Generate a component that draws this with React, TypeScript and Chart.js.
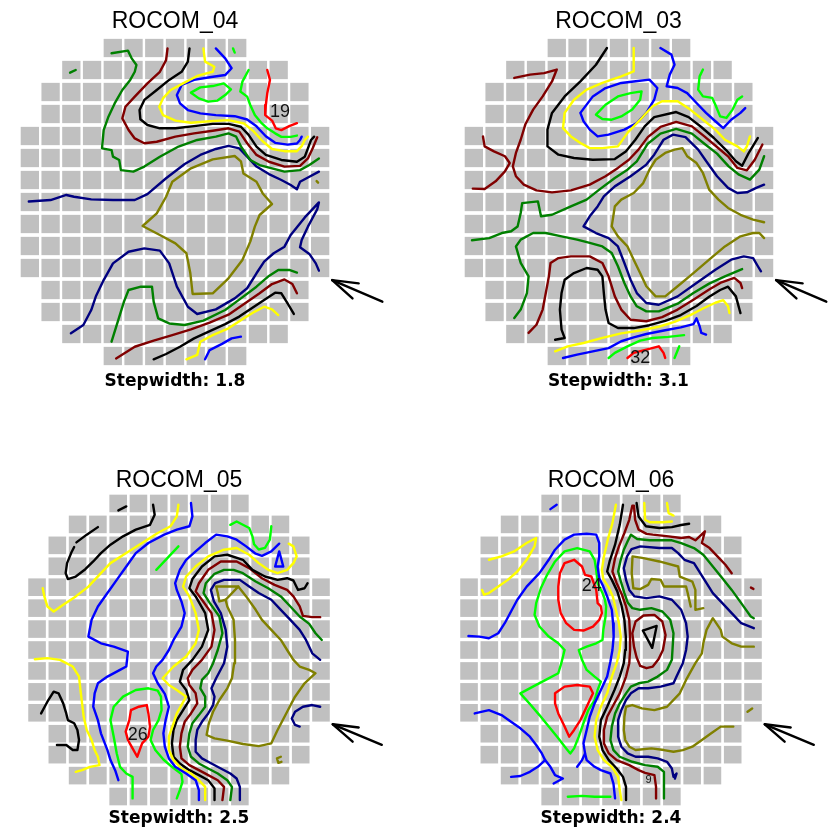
import React, { useEffect, useRef } from 'react';
import { Chart, registerables } from 'chart.js';

Chart.register(...registerables);

type Pt = [number, number];

// ---------- sensor grid: 15 x 15 positions, circular mask (first / last column per row)
const ROW_FIRST_COL = [4, 2, 1, 1, 0, 0, 0, 0, 0, 0, 0, 1, 1, 2, 4];
const ROW_LAST_COL = [10, 12, 13, 13, 14, 14, 14, 14, 14, 14, 14, 13, 13, 12, 10];

const PANEL_TITLES = ['ROCOM_04', 'ROCOM_03', 'ROCOM_05', 'ROCOM_06'];
const STEPWIDTHS = [1.8, 3.1, 2.5, 2.4];

// inlet-direction arrow (grid units)
const ARROW_SHAFT: Pt[] = [[15.08, 11.05], [17.5, 12.03]];
const ARROW_HEAD: Pt[] = [[16.36, 11.2], [15.08, 11.05], [16.06, 11.88]];

// ---------- ROCOM_04 contour lines (grid units: x = column, y = row)
const P04_DKGREEN_1: Pt[] = [[4.44,0.74],[5.23,0.62],[5.41,0.97],[5.64,1.27],[5.56,1.58],[5.34,1.95],[4.96,2.41],[4.59,3.02],[4.29,3.62],[4.06,4.23],[3.98,5.06],[4.44,5.14],[4.51,5.44],[4.81,5.59],[4.89,6.05],[5.49,6.12],[6.02,5.89],[6.77,5.44],[7.67,4.98],[8.57,4.68],[9.47,4.53],[10.08,4.38],[10.45,4.53],[10.68,4.98],[11.13,5.59],[11.58,5.82],[12.18,5.97],[12.78,6.12],[13.53,6.05],[13.98,5.82],[14.44,5.52]];
const P04_DKGREEN_2: Pt[] = [[2.44,1.62],[2.71,1.5]];
const P04_DKRED_1: Pt[] = [[7.14,0.52],[7.07,1.05],[6.77,1.58],[6.17,2.11],[5.56,2.71],[5.11,3.17],[4.96,3.7],[5.26,4.23],[5.56,4.61],[6.02,4.83],[6.62,4.76],[7.52,4.53],[8.42,4.38],[9.32,4.26],[10.08,4.15],[10.6,4.3],[10.98,4.83],[11.43,5.36],[12.03,5.67],[12.78,5.89],[13.53,5.86],[13.91,5.52],[14.14,5.06],[14.36,4.56]];
const P04_BLACK_1: Pt[] = [[8.2,0.52],[8.12,1.12],[7.82,1.58],[7.22,1.95],[6.62,2.41],[6.02,2.86],[5.79,3.32],[5.83,3.74],[6.17,4.0],[6.77,4.15],[7.52,4.15],[8.42,4.05],[9.32,3.95],[10.08,3.95],[10.68,4.08],[11.05,4.45],[11.43,4.98],[11.88,5.36],[12.63,5.59],[13.38,5.67],[13.76,5.44],[13.91,5.06],[14.06,4.68],[14.21,4.53]];
const P04_YELLOW_1: Pt[] = [[8.87,0.52],[8.95,1.12],[9.4,1.35],[9.32,1.58],[8.57,1.77],[7.89,2.11],[7.29,2.41],[6.92,2.79],[6.74,3.17],[6.92,3.55],[7.52,3.8],[8.27,3.9],[9.17,3.83],[10.08,3.78],[10.83,3.93],[11.28,4.28],[11.73,4.74],[12.18,5.09],[12.78,5.19],[13.38,5.19],[13.61,4.96],[13.76,4.68],[13.91,4.53]];
const P04_BLUE_1: Pt[] = [[9.47,0.52],[9.92,0.97],[10.23,1.42],[9.92,1.73],[9.17,1.83],[8.42,1.95],[7.82,2.18],[7.59,2.64],[7.74,3.02],[8.12,3.32],[8.72,3.47],[9.47,3.55],[10.38,3.6],[10.98,3.75],[11.43,4.06],[11.88,4.51],[12.33,4.81],[12.93,4.89],[13.38,4.84],[13.53,4.68],[13.61,4.53]];
const P04_GREEN_1: Pt[] = [[8.27,2.53],[8.72,2.29],[9.32,2.23],[9.85,2.11],[10.2,2.38],[9.92,2.64],[9.55,2.89],[9.1,2.94],[8.65,2.79],[8.27,2.53]];
const P04_GREEN_2: Pt[] = [[11.05,1.5],[10.75,2.03],[10.65,2.48],[10.98,2.71],[11.13,3.09],[11.35,3.55],[11.65,3.89],[11.95,4.15],[12.33,4.38],[12.63,4.54],[13.08,4.54],[13.38,4.48]];
const P04_GREEN_3: Pt[] = [[10.3,0.52],[10.38,0.71]];
const P04_RED_1: Pt[] = [[11.95,1.5],[12.08,1.95],[11.95,2.56],[11.88,3.09],[11.85,3.55],[12.18,3.8],[12.36,4.15],[12.63,4.23],[13.01,4.05],[13.38,3.92]];
const P04_NAVY_1: Pt[] = [[0.45,7.48],[1.5,7.41],[2.26,7.18],[2.63,7.26],[3.46,7.38],[4.51,7.41],[5.56,7.41],[6.17,7.14],[7.07,6.42],[7.97,5.77],[8.72,5.36],[9.47,5.09],[10.08,4.95],[10.6,5.06],[10.98,5.44],[11.43,5.89],[12.03,6.23],[12.63,6.5],[13.08,6.73],[13.38,6.92],[13.53,6.58],[13.98,6.35],[14.44,6.12]];
const P04_OLIVE_1: Pt[] = [[5.94,8.59],[6.62,8.02],[7.07,7.26],[7.37,6.58],[8.27,5.97],[9.32,5.56],[10.38,5.41],[10.68,5.65],[10.8,6.2],[11.43,6.58],[11.73,7.11],[12.18,7.59],[11.58,8.09],[11.35,8.62],[11.13,9.3],[10.75,10.14],[10.08,10.97],[9.32,11.65],[8.35,11.68],[8.24,10.74],[8.05,9.83],[7.52,9.38],[6.77,9.0],[5.94,8.59]];
const P04_OLIVE_2: Pt[] = [[14.33,6.55],[14.4,6.62]];
const P04_NAVY_2: Pt[] = [[2.48,13.47],[3.08,13.09],[3.46,12.41],[3.68,11.8],[4.06,11.05],[4.51,10.29],[5.26,9.76],[6.02,9.61],[6.77,9.71],[7.22,10.29],[7.59,11.35],[8.12,12.26],[8.57,12.59],[9.47,12.38],[10.38,11.88],[10.98,11.42],[11.43,10.74],[11.8,10.21],[12.26,9.83],[12.78,9.53],[13.08,9.0],[13.76,8.2],[14.44,7.52],[14.36,7.83],[13.91,8.62],[13.61,9.23],[13.53,9.56],[13.98,9.86],[14.29,10.29],[14.44,10.62]];
const P04_DKGREEN_3: Pt[] = [[4.44,13.85],[4.74,12.94],[5.04,12.03],[5.26,11.5],[5.86,11.35],[6.39,11.35],[6.47,12.03],[6.69,12.79],[7.22,13.02],[7.97,13.09],[8.87,12.89],[9.92,12.41],[10.68,11.88],[11.43,11.35],[12.03,10.86],[12.48,10.59],[13.01,10.59],[13.38,10.71]];
const P04_DKRED_2: Pt[] = [[4.66,14.61],[5.56,14.08],[6.47,13.8],[7.37,13.55],[8.27,13.29],[9.17,12.98],[10.08,12.62],[10.83,12.14],[11.58,11.65],[12.18,11.23],[12.78,11.02],[13.16,11.23],[13.38,11.65]];
const P04_BLACK_2: Pt[] = [[6.47,14.65],[7.07,14.41],[7.74,14.08],[8.42,13.7],[9.02,13.44],[9.92,13.05],[10.6,12.71],[11.2,12.33],[11.8,11.95],[12.33,11.62],[12.63,11.65],[12.93,12.11],[13.23,12.59]];
const P04_YELLOW_2: Pt[] = [[8.05,14.65],[8.57,14.45],[8.72,13.85],[9.32,13.55],[10.08,13.24],[10.75,12.83],[11.35,12.48],[11.8,12.26],[12.18,12.38],[12.48,12.64]];
const P04_BLUE_2: Pt[] = [[8.95,14.65],[9.17,14.23],[9.77,13.95],[10.23,13.7],[10.68,13.62]];
const P04_LABEL_TEXT = '19';
const P04_LABEL_POS: Pt = [12.56, 3.42];

// ---------- ROCOM_03
const P03_DKRED_1: Pt[] = [[0.94,4.52],[1.02,4.97],[1.47,5.2],[2.0,5.42],[2.23,5.73],[2.0,6.11],[1.55,6.56],[1.02,6.91],[0.45,6.89]];
const P03_DKRED_2: Pt[] = [[2.45,1.86],[3.21,1.71],[3.89,1.64],[4.5,1.48],[4.27,2.02],[3.82,2.7],[3.36,3.3],[2.98,3.98],[2.76,4.67],[2.53,5.27],[2.38,5.88],[2.53,6.33],[2.91,6.71],[3.52,6.97],[4.27,7.06],[5.18,6.97],[6.09,6.71],[6.85,6.33],[7.45,5.95],[7.98,5.58],[8.44,5.12],[8.89,4.55],[9.5,4.09],[10.26,3.86],[11.02,4.06],[11.62,4.52],[12.23,5.0],[12.79,5.45],[13.21,5.95],[13.67,6.06],[14.05,5.58],[14.42,4.89]];
const P03_BLACK_1: Pt[] = [[6.92,0.5],[6.39,1.26],[5.64,2.02],[4.88,2.7],[4.27,3.45],[4.05,4.21],[4.05,4.97],[4.58,5.35],[5.33,5.5],[6.24,5.58],[7.3,5.55],[7.83,5.2],[8.29,4.67],[8.74,4.06],[9.2,3.64],[10.26,3.41],[10.86,3.64],[11.47,4.09],[12.08,4.59],[12.68,5.15],[13.14,5.65],[13.44,5.85],[13.74,5.3],[14.2,4.59]];
const P03_YELLOW_1: Pt[] = [[8.21,0.5],[8.21,1.56],[7.61,1.79],[6.7,2.09],[5.94,2.39],[5.33,2.85],[4.88,3.45],[4.8,4.14],[5.18,4.52],[5.64,4.82],[6.09,5.05],[6.7,5.05],[7.45,4.97],[7.91,4.36],[8.52,3.76],[9.12,3.15],[9.58,2.92],[10.33,2.92],[10.94,3.3],[11.55,3.76],[12.15,4.21],[12.61,4.67],[13.21,4.97],[13.52,5.2],[13.67,4.97],[13.82,4.52]];
const P03_BLUE_1: Pt[] = [[5.64,3.45],[6.24,2.7],[6.85,2.32],[7.61,2.09],[8.21,2.02],[8.97,1.94],[9.35,2.32],[9.2,2.85],[8.82,3.45],[8.36,3.91],[7.76,4.21],[7.0,4.44],[6.47,4.52],[6.09,4.21],[5.79,3.83],[5.64,3.45]];
const P03_GREEN_1: Pt[] = [[6.39,3.53],[6.85,3.08],[7.45,2.7],[8.06,2.55],[8.59,2.47],[8.52,2.85],[8.14,3.3],[7.61,3.61],[7.15,3.76],[6.7,3.73],[6.39,3.53]];
const P03_BLUE_2: Pt[] = [[9.5,0.5],[10.03,0.8],[10.18,1.26],[9.95,1.71],[9.8,2.24],[10.33,2.32],[10.79,2.55],[11.24,3.0],[11.7,3.45],[12.15,3.83],[12.53,4.14],[12.91,3.76],[13.36,3.45],[13.59,3.23]];
const P03_GREEN_2: Pt[] = [[11.55,1.48],[11.39,1.79],[11.32,2.39],[11.55,2.7],[12.0,2.77],[12.15,3.08],[12.38,3.61],[12.68,3.68],[12.98,3.3],[13.21,2.85],[13.44,2.7]];
const P03_DKGREEN_1: Pt[] = [[0.41,9.24],[1.24,9.14],[1.85,8.91],[2.3,8.83],[2.61,8.61],[2.76,8.0],[2.83,7.55],[3.59,7.47],[3.74,8.15],[4.27,8.08],[5.18,7.7],[5.94,7.39],[6.55,6.94],[7.3,6.41],[7.91,6.03],[8.36,5.65],[8.89,4.85],[9.5,4.39],[10.26,4.18],[11.02,4.39],[11.62,4.85],[12.23,5.3],[12.79,5.88],[13.29,6.26],[13.82,6.48],[14.27,6.03],[14.5,5.42]];
const P03_NAVY_1: Pt[] = [[14.5,6.71],[14.12,6.86],[13.67,7.06],[13.21,7.09],[12.76,6.86],[12.23,6.33],[11.77,5.73],[11.32,5.12],[10.71,4.55],[10.11,4.44],[9.65,4.67],[9.2,5.35],[8.82,5.8],[8.06,6.33],[7.3,6.79],[6.77,7.24],[6.47,7.7],[6.09,8.15],[5.79,8.61],[6.39,8.91],[7.0,9.14],[7.45,9.52],[7.76,10.27],[8.06,11.03],[8.36,11.64],[8.82,12.09],[9.42,12.17],[10.33,11.79],[11.24,11.18],[12.15,10.58],[12.91,10.12],[13.52,9.97],[13.97,10.05],[14.2,10.42],[14.35,10.65]];
const P03_OLIVE_1: Pt[] = [[14.5,8.42],[13.97,8.3],[13.36,8.08],[12.76,7.77],[12.3,7.39],[11.85,6.94],[11.55,6.18],[11.24,5.73],[10.79,5.42],[10.56,5.05],[10.18,5.12],[9.73,5.27],[9.27,5.58],[8.97,6.03],[8.67,6.64],[8.21,7.09],[7.61,7.39],[7.3,7.7],[7.15,8.61],[7.45,9.06],[7.91,9.52],[8.21,10.12],[8.52,10.73],[8.82,11.33],[9.27,11.79],[9.73,11.79],[10.33,11.33],[11.09,10.73],[11.85,10.12],[12.61,9.52],[13.36,9.06],[13.97,8.91],[14.27,8.91],[14.5,9.14]];
const P03_DKGREEN_2: Pt[] = [[2.45,12.77],[2.76,12.39],[3.06,11.64],[3.14,10.88],[2.76,10.27],[2.53,9.52],[2.76,9.21],[3.36,8.91],[3.97,8.91],[4.73,9.06],[5.48,9.21],[6.09,9.36],[6.7,9.52],[7.15,9.82],[7.45,10.42],[7.76,11.18],[8.06,11.79],[8.36,12.24],[8.82,12.47],[9.42,12.47],[10.33,12.12],[11.09,11.64],[11.85,11.21],[12.61,10.88],[13.44,10.55]];
const P03_DKRED_3: Pt[] = [[3.14,13.45],[3.52,13.08],[3.82,12.39],[3.97,11.64],[4.12,10.88],[4.2,10.27],[4.58,10.05],[5.18,9.97],[6.09,9.97],[6.7,10.27],[7.0,10.88],[7.3,11.79],[7.61,12.39],[8.06,12.85],[8.82,12.92],[9.58,12.73],[10.33,12.39],[11.09,11.94],[11.85,11.48],[12.45,11.15],[13.06,10.95],[13.36,11.18],[13.44,11.41]];
const P03_BLACK_2: Pt[] = [[4.42,13.76],[4.88,13.68],[4.73,13.3],[4.65,12.39],[4.73,11.64],[4.88,11.03],[5.33,10.73],[5.94,10.5],[6.47,10.58],[6.7,10.88],[6.77,11.64],[6.85,12.39],[7.0,13.0],[7.45,13.23],[8.21,13.23],[8.97,13.1],[9.73,12.9],[10.48,12.64],[11.24,12.23],[11.85,11.81],[12.38,11.5],[12.76,11.35],[13.14,11.79],[13.36,12.55]];
const P03_YELLOW_2: Pt[] = [[4.42,14.29],[5.03,14.06],[5.79,13.91],[6.7,13.68],[7.61,13.47],[8.52,13.34],[9.42,13.17],[10.18,12.95],[10.94,12.64],[11.55,12.34],[12.15,12.08],[12.53,11.96],[12.76,12.24],[12.83,12.55]];
const P03_BLUE_3: Pt[] = [[4.8,14.59],[5.48,14.44],[6.24,14.29],[7.0,14.14],[7.61,13.83],[8.21,13.65],[8.82,13.5],[9.73,13.33],[10.48,13.2],[11.09,13.05],[11.24,12.79],[11.39,13.15],[11.47,13.45],[11.7,13.53]];
const P03_GREEN_3: Pt[] = [[7.0,14.59],[7.3,14.36],[7.91,14.06],[8.52,13.8],[9.12,13.68],[9.88,13.63],[10.64,13.55]];
const P03_GREEN_4: Pt[] = [[10.18,14.59],[10.41,14.06]];
const P03_RED_1: Pt[] = [[7.91,14.59],[8.21,14.36],[8.82,14.21],[9.42,14.06],[9.65,14.36],[9.73,14.59]];
const P03_LABEL_TEXT = '32';
const P03_LABEL_POS: Pt = [8.53, 14.57];

// ---------- ROCOM_05
const P05_BLACK_1: Pt[] = [[4.51,0.83],[4.9,0.64]];
const P05_BLACK_2: Pt[] = [[2.44,2.36],[2.95,1.99],[3.5,1.63]];
const P05_BLACK_3: Pt[] = [[6.22,0.56],[6.3,1.04],[6.07,1.52],[5.37,1.75],[4.74,2.07],[4.12,2.47],[3.65,2.87],[3.27,3.27],[2.88,3.64],[2.41,3.99],[2.02,4.11],[1.91,3.83],[1.98,3.35],[2.18,2.87],[2.33,2.58]];
const P05_YELLOW_1: Pt[] = [[7.47,0.56],[7.39,1.12],[7.08,1.59],[6.45,1.91],[5.68,2.39],[4.9,2.87],[4.12,3.35],[3.65,3.83],[3.03,4.47],[2.41,4.94],[1.79,5.34],[1.32,5.66],[1.01,5.42],[0.86,4.94],[0.78,4.55]];
const P05_BLUE_1: Pt[] = [[8.09,0.48],[8.16,1.12],[8.01,1.59],[7.39,1.75],[6.77,1.99],[5.99,2.39],[5.37,2.87],[4.9,3.51],[4.43,4.15],[3.97,4.78],[3.5,5.42],[3.19,6.06],[3.03,6.86],[3.65,7.18],[4.28,7.34],[4.98,7.58],[4.9,8.29],[4.59,8.45],[3.97,8.77],[3.5,9.09],[3.34,9.57],[3.27,10.21],[3.5,10.85],[3.65,11.48],[3.97,12.28],[4.12,12.76],[4.35,13.24],[4.51,13.72]];
const P05_GREEN_1: Pt[] = [[6.38,3.67],[7.47,2.55]];
const P05_BLUE_2: Pt[] = [[8.48,14.67],[8.48,14.19],[8.32,13.72],[7.85,13.4],[7.31,13.08],[7.0,12.68],[6.8,12.12],[6.73,11.48],[6.84,10.85],[7.0,10.21],[6.8,9.6],[6.45,9.09],[6.22,8.61],[6.38,8.29],[6.69,7.97],[7.0,7.5],[7.23,7.02],[7.62,6.38],[7.78,5.74],[7.62,5.18],[7.39,4.63],[7.31,4.31],[7.54,3.67],[7.85,3.19],[8.32,2.79],[8.79,2.39],[9.33,1.99],[9.88,2.07],[10.34,2.23],[10.81,2.55],[11.28,2.9],[11.59,3.0],[12.05,2.79],[12.44,2.42]];
const P05_BLUE_3: Pt[] = [[12.44,2.79],[12.64,3.51],[12.24,3.51],[12.44,2.79]];
const P05_GREEN_2: Pt[] = [[10.03,1.52],[10.34,1.36],[10.96,1.67],[11.12,2.07],[11.2,2.45],[11.43,2.7],[11.74,2.62],[11.98,2.23],[12.05,1.59]];
const P05_YELLOW_2: Pt[] = [[8.79,14.67],[8.79,14.04],[8.48,13.72],[8.09,13.4],[7.62,13.16],[7.23,12.76],[7.0,12.28],[7.0,11.64],[7.23,11.0],[7.39,10.53],[7.62,10.13],[7.85,9.73],[7.39,9.41],[7.0,9.17],[6.69,8.85],[7.23,8.29],[7.85,7.81],[8.32,7.18],[8.48,6.54],[8.32,5.74],[8.01,4.94],[7.7,4.47],[7.85,3.99],[8.32,3.51],[8.94,3.03],[9.72,2.71],[10.34,2.63],[10.96,2.95],[11.43,3.35],[11.9,3.67],[12.36,3.83],[12.83,3.67],[13.14,3.35],[13.3,3.03],[13.14,2.55],[12.91,2.42]];
const P05_BLACK_4: Pt[] = [[9.25,14.67],[9.25,14.11],[8.94,13.72],[8.48,13.48],[8.01,13.24],[7.54,12.92],[7.23,12.6],[7.15,11.96],[7.23,11.32],[7.39,10.85],[7.7,10.37],[8.01,9.89],[7.85,9.41],[7.54,9.01],[7.7,8.45],[8.16,7.97],[8.63,7.34],[8.94,6.54],[8.79,5.74],[8.32,4.94],[8.01,4.55],[8.16,4.11],[8.63,3.51],[9.25,3.03],[9.88,2.95],[10.65,3.19],[11.12,3.67],[11.74,3.99],[12.36,4.15],[12.83,4.07],[13.14,4.18],[13.37,4.63],[13.69,4.55],[13.84,4.31]];
const P05_DKRED_1: Pt[] = [[9.64,14.67],[9.72,14.04],[9.41,13.72],[8.94,13.48],[8.48,13.24],[8.01,13.0],[7.62,12.68],[7.54,12.12],[7.62,11.48],[7.78,10.93],[8.09,10.53],[8.4,10.05],[8.32,9.57],[8.01,9.17],[7.93,8.85],[8.16,8.45],[8.63,7.97],[9.1,7.34],[9.25,6.54],[9.1,5.74],[8.63,5.1],[8.32,4.7],[8.48,4.31],[8.94,3.67],[9.56,3.27],[10.34,3.27],[10.96,3.59],[11.59,4.07],[12.21,4.39],[12.83,4.63],[13.14,4.94],[13.45,5.42],[13.61,5.87],[14.07,5.93],[14.46,5.93]];
const P05_DKGREEN_1: Pt[] = [[10.03,14.67],[10.11,14.04],[9.88,13.72],[9.41,13.4],[8.94,13.16],[8.48,12.92],[8.09,12.6],[7.93,12.12],[8.01,11.48],[8.16,11.0],[8.48,10.61],[8.79,10.21],[8.79,9.73],[8.55,9.33],[8.63,8.93],[8.94,8.61],[9.18,8.13],[9.41,7.5],[9.64,6.7],[9.49,5.9],[9.02,5.26],[8.71,4.78],[8.82,4.31],[9.25,3.86],[9.72,3.67],[10.19,3.67],[10.65,3.83],[11.28,4.23],[11.9,4.55],[12.52,4.94],[12.99,5.42],[13.45,5.9],[13.92,6.25],[14.23,6.7],[14.54,7.02]];
const P05_NAVY_1: Pt[] = [[10.5,14.67],[10.5,14.04],[10.34,13.64],[10.03,13.4],[9.56,13.16],[9.1,12.92],[8.63,12.68],[8.32,12.36],[8.32,11.8],[8.4,11.32],[8.63,10.93],[8.94,10.53],[9.18,10.13],[9.25,9.73],[9.1,9.33],[9.33,8.85],[9.72,8.13],[9.88,7.34],[9.8,6.54],[9.56,5.74],[9.22,5.18],[9.07,4.63],[9.28,4.31],[9.72,4.15],[10.5,4.15],[10.96,4.47],[11.43,4.78],[12.05,5.1],[12.52,5.58],[12.99,6.06],[13.45,6.54],[13.76,7.02],[14.07,7.66],[14.46,7.97]];
const P05_OLIVE_1: Pt[] = [[9.33,4.47],[10.42,4.47],[9.8,5.1],[9.49,5.18],[9.41,4.78],[9.33,4.47]];
const P05_OLIVE_2: Pt[] = [[10.42,4.47],[10.81,4.94],[11.28,5.58],[11.59,6.06],[12.05,6.54],[12.52,7.02],[12.83,7.5],[13.14,7.97],[13.45,8.29],[13.92,8.45],[14.23,8.61],[13.69,9.09],[13.22,9.73],[12.83,10.45],[12.36,11.32],[12.05,11.96],[11.43,12.09],[10.65,11.99],[9.88,11.83],[9.25,11.72],[8.86,11.56],[8.97,11.0],[9.18,10.45],[9.49,9.89],[9.88,9.33],[10.11,8.85],[10.22,8.13],[10.26,7.02],[10.19,6.06],[9.88,5.42],[9.8,5.1]];
const P05_OLIVE_3: Pt[] = [[12.52,12.6],[12.33,12.68],[12.4,12.89],[12.55,12.84]];
const P05_NAVY_2: Pt[] = [[14.46,10.21],[14.07,10.13],[13.61,10.21],[13.22,10.45],[13.06,10.77],[13.22,11.08],[13.45,11.16]];
const P05_YELLOW_3: Pt[] = [[0.39,7.94],[1.01,7.89],[1.63,7.97],[2.26,8.29],[2.57,8.77],[2.64,9.41],[2.72,10.05],[2.8,10.69],[2.95,11.32],[3.19,11.8],[3.34,12.28],[3.5,12.6],[3.58,13.0],[3.11,13.08],[2.72,13.24],[2.41,13.32]];
const P05_BLACK_5: Pt[] = [[0.7,10.53],[1.01,9.97],[1.32,9.49],[1.56,9.57],[1.79,10.05],[1.94,10.53],[2.02,10.85],[2.33,11.0],[2.49,11.32],[2.57,11.8],[2.49,12.28],[2.26,12.28],[1.94,12.04],[1.48,12.04]];
const P05_GREEN_3: Pt[] = [[5.21,14.59],[5.21,14.04],[5.21,13.56],[4.9,13.4],[4.59,13.08],[4.43,12.44],[4.28,11.64],[4.12,10.85],[4.28,10.21],[4.74,9.73],[5.37,9.41],[5.99,9.33],[6.45,9.44],[6.61,9.73],[6.64,10.37],[6.49,10.85],[6.22,11.32],[6.1,11.8],[6.33,12.28],[6.73,12.73],[7.15,13.08],[7.62,13.43],[7.67,13.8],[7.54,14.19],[7.39,14.59]];
const P05_RED_1: Pt[] = [[5.13,10.37],[5.52,10.21],[5.91,10.13],[5.99,10.53],[6.07,11.16],[5.99,11.64],[5.68,11.96],[5.44,12.6],[5.21,12.2],[4.98,11.8],[4.87,11.4],[5.05,10.85],[5.13,10.37]];
const P05_LABEL_TEXT = '26';
const P05_LABEL_POS: Pt = [5.47, 11.56];

// ---------- ROCOM_06
const P06_BLUE_1: Pt[] = [[4.51,0.77],[4.82,0.56]];
const P06_YELLOW_1: Pt[] = [[1.48,3.19],[2.1,3.03],[2.72,2.79],[3.34,2.39],[3.81,2.15],[3.73,2.55],[3.34,3.19],[2.88,3.75],[2.41,4.15],[1.94,4.47],[1.48,4.78],[1.24,4.86],[1.14,4.63]];
const P06_BLUE_2: Pt[] = [[0.47,6.83],[1.01,6.86],[1.48,6.94],[1.94,6.7],[2.26,6.22],[2.57,5.66],[2.88,5.1],[3.34,4.47],[3.97,3.83],[4.43,3.19],[4.74,2.71],[5.21,2.23],[5.68,1.99],[6.3,1.95],[6.77,1.99],[6.92,2.39],[6.92,3.03],[6.84,3.51],[6.92,4.07],[7.12,4.47],[7.31,4.94],[7.54,5.58],[7.6,6.22],[7.63,6.86],[7.57,7.5],[7.47,8.05],[7.31,8.77],[7.0,9.41],[6.69,10.05],[6.45,10.69],[6.3,11.32],[6.14,11.96],[6.22,12.44],[6.3,12.76],[6.69,13.08],[7.0,13.24],[7.47,13.4],[7.62,13.88],[7.7,14.59]];
const P06_BLUE_3: Pt[] = [[6.22,12.44],[6.07,12.76],[5.83,13.08]];
const P06_BLUE_4: Pt[] = [[0.78,10.53],[1.48,10.37],[2.1,10.61],[2.57,10.93],[3.03,11.24],[3.5,11.64],[3.81,12.04],[4.09,12.44],[4.25,12.76],[4.51,13.08],[4.74,13.48],[5.13,13.64],[4.67,13.88]];
const P06_BLUE_5: Pt[] = [[2.57,13.56],[3.03,13.52],[3.5,13.32],[3.89,13.08],[4.25,12.76]];
const P06_GREEN_1: Pt[] = [[5.21,7.5],[4.9,7.18],[4.43,6.86],[3.97,6.38],[3.73,5.82],[3.81,5.26],[4.04,4.55],[4.35,3.91],[4.74,3.27],[5.21,2.79],[5.83,2.63],[6.45,2.79],[6.69,3.19],[6.77,3.67],[6.84,4.31],[7.08,4.78],[7.2,5.1],[7.26,5.42],[7.23,5.9],[7.12,6.54],[7.08,7.02],[6.77,7.18],[6.3,7.34],[5.91,7.5],[6.07,7.97],[6.3,8.45],[6.69,8.77],[7.0,9.01],[6.84,9.41],[6.69,9.89],[6.38,10.37],[6.14,11.0],[5.91,11.64],[5.68,12.2],[5.49,12.44],[5.29,12.2],[4.9,11.72],[4.43,11.16],[3.97,10.61],[3.5,10.08],[3.03,9.57],[3.65,9.25],[4.28,8.93],[4.9,8.61],[5.05,8.13],[5.21,7.5]];
const P06_RED_1: Pt[] = [[5.21,3.35],[5.68,3.19],[6.07,3.51],[6.22,3.91],[6.53,3.99],[6.77,4.63],[6.84,5.26],[7.0,5.42],[7.05,5.74],[6.92,6.06],[6.61,6.38],[6.14,6.57],[5.68,6.54],[5.29,6.22],[5.02,5.74],[4.9,5.1],[4.9,4.47],[4.98,3.83],[5.21,3.35]];
const P06_RED_2: Pt[] = [[4.74,9.57],[5.21,9.25],[5.83,9.17],[6.45,9.25],[6.61,9.57],[6.3,10.21],[5.99,10.85],[5.68,11.32],[5.44,11.64],[5.21,11.16],[4.9,10.53],[4.74,10.05],[4.74,9.57]];
const P06_YELLOW_2: Pt[] = [[8.01,14.67],[7.93,14.19],[7.85,13.56],[7.54,13.08],[7.15,12.76],[6.84,12.28],[6.69,11.64],[6.77,10.85],[7.0,10.21],[7.31,9.57],[7.54,8.77],[7.78,8.13],[7.93,7.5],[7.98,6.86],[7.89,6.22],[7.74,5.58],[7.59,4.94],[7.36,4.47],[7.12,4.11],[7.05,3.67],[7.15,3.03],[7.34,2.23],[7.57,1.44],[7.74,0.56]];
const P06_YELLOW_3: Pt[] = [[9.14,0.48],[9.18,1.28],[9.41,1.4],[10.03,1.4],[10.5,1.36]];
const P06_YELLOW_4: Pt[] = [[10.26,0.48],[10.34,0.96],[10.58,1.08]];
const P06_BLACK_1: Pt[] = [[8.24,14.67],[8.24,14.04],[8.09,13.56],[7.78,13.16],[7.39,12.76],[7.08,12.28],[6.92,11.64],[7.0,10.85],[7.31,10.21],[7.67,9.41],[7.93,8.77],[8.13,8.13],[8.2,7.5],[8.23,6.86],[8.16,6.06],[8.01,5.34],[7.81,4.7],[7.54,4.15],[7.31,3.75],[7.43,3.27],[7.7,2.47],[7.93,1.52],[8.09,0.56]];
const P06_BLACK_2: Pt[] = [[8.76,0.48],[8.86,1.12],[9.22,1.59],[9.88,1.67],[10.5,1.63],[10.96,1.53],[11.35,1.47]];
const P06_BLACK_3: Pt[] = [[9.07,6.57],[9.75,6.35],[9.53,7.4],[9.07,6.57]];
const P06_DKRED_1: Pt[] = [[9.72,14.59],[9.72,14.04],[9.64,13.48],[9.18,13.37],[8.86,13.24],[8.4,13.0],[7.78,12.76],[7.39,12.44],[7.15,11.96],[7.15,11.32],[7.31,10.69],[7.62,10.13],[7.93,9.57],[8.24,8.77],[8.4,8.13],[8.44,7.5],[8.44,6.86],[8.4,6.06],[8.24,5.42],[8.04,4.86],[7.78,4.31],[7.57,3.75],[7.7,3.11],[7.89,2.55],[8.16,1.91],[8.4,1.28],[8.55,0.61],[8.63,0.61],[8.69,1.28],[8.86,1.75],[9.25,1.95],[9.56,1.99],[10.34,2.07],[10.96,2.15],[11.35,2.1],[11.66,2.26],[12.13,1.83],[11.98,2.39],[12.36,2.63],[12.83,3.11],[13.14,3.43],[13.45,3.83]];
const P06_DKRED_2: Pt[] = [[8.63,7.34],[8.55,6.7],[8.71,6.14],[9.1,5.85],[9.64,5.82],[10.03,6.14],[10.19,6.78],[10.06,7.5],[9.84,7.94],[9.56,8.29],[9.25,8.37],[8.94,8.26],[8.76,7.85],[8.63,7.34]];
const P06_DKRED_3: Pt[] = [[14.4,4.52],[14.52,4.58]];
const P06_DKGREEN_1: Pt[] = [[10.11,14.59],[10.11,13.88],[10.11,13.32],[9.8,13.08],[9.18,13.0],[8.55,12.84],[7.93,12.6],[7.62,12.28],[7.47,11.8],[7.54,11.16],[7.7,10.53],[7.93,10.05],[8.24,9.57],[8.48,9.25],[8.86,9.09],[9.33,9.01],[9.8,8.77],[10.26,8.45],[10.5,7.97],[10.53,7.5],[10.58,6.7],[10.42,6.06],[10.03,5.66],[9.49,5.5],[8.94,5.58],[8.55,5.5],[8.32,5.23],[8.16,4.78],[8.01,4.31],[7.85,3.75],[7.98,3.19],[8.13,2.71],[8.32,2.31],[8.48,1.99],[8.79,2.2],[9.41,2.26],[10.5,2.26],[10.96,2.39],[11.59,2.63],[12.05,2.95],[12.52,3.51],[12.99,4.07],[13.45,4.63],[13.92,5.26],[14.39,5.9],[14.54,5.98]];
const P06_NAVY_1: Pt[] = [[14.54,6.46],[13.92,6.22],[13.45,5.74],[12.99,5.26],[12.52,4.78],[12.21,4.31],[11.9,3.83],[11.59,3.35],[11.12,3.19],[10.81,2.87],[10.5,2.63],[9.88,2.63],[8.94,2.55],[8.51,2.68],[8.29,3.03],[8.13,3.59],[8.24,4.15],[8.4,4.63],[8.66,4.94],[9.25,5.02],[9.88,4.94],[10.5,5.1],[10.96,5.58],[11.2,6.22],[11.28,6.86],[11.2,7.5],[11.04,8.13],[10.73,8.77],[10.58,9.09],[9.95,9.25],[9.33,9.33],[8.86,9.33],[8.48,9.57],[8.24,9.89],[8.01,10.37],[7.85,10.85],[7.85,11.64],[8.01,12.12],[8.32,12.44],[8.71,12.6],[9.33,12.6],[9.8,12.68],[10.26,12.84],[10.5,13.16],[10.58,13.56],[10.73,13.4],[10.65,13.64]];
const P06_OLIVE_1: Pt[] = [[11.43,5.42],[11.28,4.78],[11.2,4.47],[10.11,4.47],[9.95,4.15],[9.49,4.11],[9.33,4.39],[8.94,4.59],[8.6,4.55],[8.52,3.83],[8.56,3.03],[9.1,3.11],[9.88,3.27],[10.81,3.51],[10.89,3.99],[11.51,4.23],[11.66,4.63],[11.66,5.58],[12.05,5.5]];
const P06_OLIVE_2: Pt[] = [[14.54,7.34],[13.92,7.34],[13.45,7.18],[12.99,6.86],[12.91,6.54],[12.52,5.98],[12.21,6.54],[12.05,7.18],[11.98,7.66],[11.66,8.13],[11.2,8.93],[10.89,9.57],[10.26,10.21],[9.64,10.37],[9.02,10.29],[8.55,10.13],[8.24,10.21],[8.16,10.69],[8.13,11.32],[8.2,11.8],[8.4,12.12],[8.71,12.28],[9.49,12.2],[10.11,12.28],[10.58,12.36],[11.04,12.28],[11.51,12.12],[11.98,11.8],[12.44,11.48],[12.91,11.16],[13.53,11.16]];
const P06_OLIVE_3: Pt[] = [[14.23,10.45],[14.46,10.29]];
const P06_GREEN_2: Pt[] = [[5.37,14.51],[6.07,14.47],[6.69,14.51],[7.47,14.51]];
const P06_LABEL_TEXT = '24';
const P06_LABEL_POS: Pt = [6.55, 4.45];
const P06_LABEL2_TEXT = '9';
const P06_LABEL2_POS: Pt = [9.35, 13.71];

// ---------- styles
const COLORS: Record<string, string> = {
  red: '#ff0000', green: '#00ff00', blue: '#0000ff', yellow: '#ffff00', black: '#000000',
  dkred: '#800000', dkgreen: '#008000', navy: '#000080', olive: '#808000',
};
const CELL_GRAY = '#c0c0c0';

type Line = [string, Pt[]];
type Label = { text: string; pos: Pt; size: number };
type PanelDef = { title: string; step: number; lines: Line[]; labels: Label[] };

const PANELS: PanelDef[] = [
  {
    title: PANEL_TITLES[0], step: STEPWIDTHS[0],
    lines: [
      ['dkgreen', P04_DKGREEN_1], ['dkgreen', P04_DKGREEN_2], ['dkred', P04_DKRED_1], ['black', P04_BLACK_1],
      ['yellow', P04_YELLOW_1], ['blue', P04_BLUE_1], ['green', P04_GREEN_1], ['green', P04_GREEN_2],
      ['green', P04_GREEN_3], ['red', P04_RED_1], ['navy', P04_NAVY_1], ['olive', P04_OLIVE_1],
      ['olive', P04_OLIVE_2], ['navy', P04_NAVY_2], ['dkgreen', P04_DKGREEN_3], ['dkred', P04_DKRED_2],
      ['black', P04_BLACK_2], ['yellow', P04_YELLOW_2], ['blue', P04_BLUE_2],
    ],
    labels: [{ text: P04_LABEL_TEXT, pos: P04_LABEL_POS, size: 18 }],
  },
  {
    title: PANEL_TITLES[1], step: STEPWIDTHS[1],
    lines: [
      ['dkred', P03_DKRED_1], ['dkred', P03_DKRED_2], ['black', P03_BLACK_1], ['yellow', P03_YELLOW_1],
      ['blue', P03_BLUE_1], ['green', P03_GREEN_1], ['blue', P03_BLUE_2], ['green', P03_GREEN_2],
      ['dkgreen', P03_DKGREEN_1], ['navy', P03_NAVY_1], ['olive', P03_OLIVE_1], ['dkgreen', P03_DKGREEN_2],
      ['dkred', P03_DKRED_3], ['black', P03_BLACK_2], ['yellow', P03_YELLOW_2], ['blue', P03_BLUE_3],
      ['green', P03_GREEN_3], ['green', P03_GREEN_4], ['red', P03_RED_1],
    ],
    labels: [{ text: P03_LABEL_TEXT, pos: P03_LABEL_POS, size: 18 }],
  },
  {
    title: PANEL_TITLES[2], step: STEPWIDTHS[2],
    lines: [
      ['black', P05_BLACK_1], ['black', P05_BLACK_2], ['black', P05_BLACK_3], ['yellow', P05_YELLOW_1],
      ['blue', P05_BLUE_1], ['green', P05_GREEN_1], ['blue', P05_BLUE_2], ['blue', P05_BLUE_3],
      ['green', P05_GREEN_2], ['yellow', P05_YELLOW_2], ['black', P05_BLACK_4], ['dkred', P05_DKRED_1],
      ['dkgreen', P05_DKGREEN_1], ['navy', P05_NAVY_1], ['olive', P05_OLIVE_1], ['olive', P05_OLIVE_2],
      ['olive', P05_OLIVE_3], ['navy', P05_NAVY_2], ['yellow', P05_YELLOW_3], ['black', P05_BLACK_5],
      ['green', P05_GREEN_3], ['red', P05_RED_1],
    ],
    labels: [{ text: P05_LABEL_TEXT, pos: P05_LABEL_POS, size: 18 }],
  },
  {
    title: PANEL_TITLES[3], step: STEPWIDTHS[3],
    lines: [
      ['blue', P06_BLUE_1], ['yellow', P06_YELLOW_1], ['blue', P06_BLUE_2], ['blue', P06_BLUE_3],
      ['blue', P06_BLUE_4], ['blue', P06_BLUE_5], ['green', P06_GREEN_1], ['red', P06_RED_1],
      ['red', P06_RED_2], ['yellow', P06_YELLOW_2], ['yellow', P06_YELLOW_3], ['yellow', P06_YELLOW_4],
      ['black', P06_BLACK_1], ['black', P06_BLACK_2], ['black', P06_BLACK_3], ['dkred', P06_DKRED_1],
      ['dkred', P06_DKRED_2], ['dkred', P06_DKRED_3], ['dkgreen', P06_DKGREEN_1], ['navy', P06_NAVY_1],
      ['olive', P06_OLIVE_1], ['olive', P06_OLIVE_2], ['olive', P06_OLIVE_3], ['green', P06_GREEN_2],
    ],
    labels: [
      { text: P06_LABEL_TEXT, pos: P06_LABEL_POS, size: 18 },
      { text: P06_LABEL2_TEXT, pos: P06_LABEL2_POS, size: 11 },
    ],
  },
];

// ---------- layout of each panel's canvas (pixels) and visible data window
type Frame = {
  left: number; top: number; width: number; height: number; xMin: number; xMax: number;
  titlePad: { top: number; bottom: number }; subPad: { top: number; bottom: number }; cellRadius: number;
};
const FRAMES: Frame[] = [
  { left: -50, top: 0, width: 450, height: 415, xMin: -2.7273, xMax: 17.7273, titlePad: { top: 10, bottom: 4 }, subPad: { top: 6, bottom: 25 }, cellRadius: 12.94 },
  { left: 394, top: 0, width: 449, height: 415, xMin: -2.7273, xMax: 17.6818, titlePad: { top: 10, bottom: 4 }, subPad: { top: 6, bottom: 25 }, cellRadius: 12.94 },
  { left: -46, top: 415, width: 450, height: 419, xMin: -2.981, xMax: 17.979, titlePad: { top: 54, bottom: 1 }, subPad: { top: 3.5, bottom: 6.5 }, cellRadius: 12.45 },
  { left: 386, top: 415, width: 450, height: 419, xMin: -2.981, xMax: 17.979, titlePad: { top: 54, bottom: 1 }, subPad: { top: 3.5, bottom: 6.5 }, cellRadius: 12.45 },
];

const toXY = (pts: Pt[]) => pts.map(([x, y]) => ({ x, y }));

const lineStyle = {
  showLine: true, pointRadius: 0, pointHitRadius: 0, borderWidth: 2.4, fill: false, tension: 0,
  borderJoinStyle: 'round', borderCapStyle: 'round', clip: false,
};

function Panel({ def, frame }: { def: PanelDef; frame: Frame }) {
  const ref = useRef<HTMLCanvasElement | null>(null);

  useEffect(() => {
    const canvas = ref.current;
    if (!canvas) return;

    const cells: { x: number; y: number }[] = [];
    ROW_FIRST_COL.forEach((first, r) => {
      for (let c = first; c <= ROW_LAST_COL[r]; c++) cells.push({ x: c + 0.5, y: r + 0.5 });
    });

    const labelPlugin = {
      id: 'mapLabels',
      afterDatasetsDraw(chart: any) {
        const { ctx, scales } = chart;
        ctx.save();
        ctx.fillStyle = '#111';
        ctx.textAlign = 'center';
        ctx.textBaseline = 'middle';
        for (const l of def.labels) {
          ctx.font = `${l.size}px "Liberation Sans", Arial, sans-serif`;
          ctx.fillText(l.text, scales.x.getPixelForValue(l.pos[0]), scales.y.getPixelForValue(l.pos[1]));
        }
        ctx.restore();
      },
    };

    const datasets: any[] = [
      { ...lineStyle, data: toXY(ARROW_HEAD), borderColor: '#000' },
      { ...lineStyle, data: toXY(ARROW_SHAFT), borderColor: '#000' },
      ...def.lines.map(([c, pts]) => ({ ...lineStyle, data: toXY(pts), borderColor: COLORS[c], backgroundColor: COLORS[c] })),
      {
        data: cells, showLine: false, pointStyle: 'rect', pointRadius: frame.cellRadius, pointHoverRadius: frame.cellRadius,
        pointBackgroundColor: CELL_GRAY, pointBorderWidth: 0, clip: false,
      },
    ];

    const chart = new Chart(canvas, {
      type: 'scatter',
      data: { datasets },
      options: {
        responsive: false,
        maintainAspectRatio: false,
        animation: false,
        devicePixelRatio: 1,
        events: [],
        layout: { padding: 0 },
        scales: {
          x: { type: 'linear', min: frame.xMin, max: frame.xMax, display: false },
          y: { type: 'linear', min: 0, max: 15, reverse: true, display: false },
        },
        plugins: {
          legend: { display: false },
          tooltip: { enabled: false },
          title: {
            display: true, text: def.title, color: '#000',
            font: { family: '"Liberation Sans", Arial, sans-serif', size: 23, weight: 'normal', lineHeight: 1 },
            padding: frame.titlePad,
          },
          subtitle: {
            display: true, position: 'bottom', text: `Stepwidth: ${def.step.toFixed(1)}`, color: '#000',
            font: { family: '"DejaVu Sans", Verdana, sans-serif', size: 17, weight: 'bold', lineHeight: 1 },
            padding: frame.subPad,
          },
        },
      } as any,
      plugins: [labelPlugin],
    });
    return () => chart.destroy();
  }, [def, frame]);

  return (
    <canvas
      ref={ref}
      width={frame.width}
      height={frame.height}
      style={{ position: 'absolute', left: frame.left, top: frame.top, width: frame.width, height: frame.height }}
    />
  );
}

export default function App() {
  return (
    <div style={{ position: 'fixed', left: 0, top: 0, width: 831, height: 834, overflow: 'hidden', background: '#fff' }}>
      {PANELS.map((p, i) => (
        <Panel key={p.title} def={p} frame={FRAMES[i]} />
      ))}
    </div>
  );
}
